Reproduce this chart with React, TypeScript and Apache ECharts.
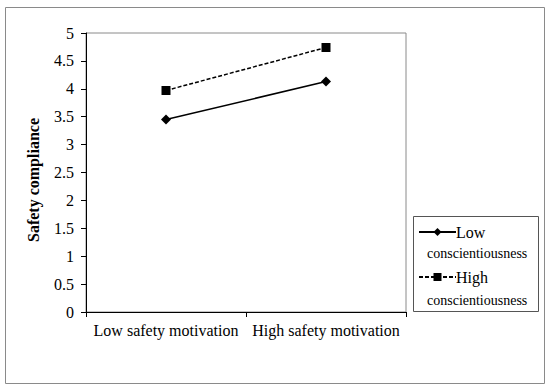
import React, { useEffect, useRef } from "react";
import * as echarts from "echarts";

const categories = ["Low safety motivation", "High safety motivation"];
const lowConscientiousness = [3.45, 4.13];
const highConscientiousness = [3.97, 4.74];
const seriesNames = ["Low", "High"];
const yTicks = { min: 0, max: 5, interval: 0.5 };

const FONT = "'Liberation Serif', 'Times New Roman', serif";

export default function App() {
  const ref = useRef<HTMLDivElement>(null);
  useEffect(() => {
    if (!ref.current) return;
    const chart = echarts.init(ref.current, undefined, { renderer: "svg" });
    chart.setOption({
      animation: false,
      backgroundColor: "#fff",
      grid: {
        left: 86,
        right: 144,
        top: 33,
        bottom: 78,
        show: true,
        borderColor: "#8a8a8a",
        borderWidth: 1,
      },
      xAxis: {
        type: "category",
        data: categories,
        boundaryGap: true,
        axisLine: { lineStyle: { color: "#000", width: 1 } },
        axisTick: { show: true, length: 5, lineStyle: { color: "#000" } },
        axisLabel: { color: "#000", fontFamily: FONT, fontSize: 16, margin: 10, interval: 0 },
        splitLine: { show: false },
      },
      yAxis: {
        type: "value",
        min: yTicks.min,
        max: yTicks.max,
        interval: yTicks.interval,
        axisLine: { show: true, lineStyle: { color: "#000", width: 1 } },
        axisTick: { show: true, length: 5, lineStyle: { color: "#000" } },
        axisLabel: { color: "#000", fontFamily: FONT, fontSize: 16, margin: 12 },
        splitLine: { show: false },
      },
      legend: {
        orient: "vertical",
        left: 418,
        top: 224,
        padding: 0,
        itemWidth: 37,
        itemHeight: 10,
        itemGap: 29,
        textStyle: { color: "#000", fontFamily: FONT, fontSize: 16, padding: [0, 0, 0, -5] },
        data: seriesNames,
      },
      series: [
        {
          name: seriesNames[0],
          type: "line",
          data: lowConscientiousness,
          symbol: "diamond",
          symbolSize: 10,
          itemStyle: { color: "#000" },
          lineStyle: { color: "#000", width: 1.5, type: "solid" },
        },
        {
          name: seriesNames[1],
          type: "line",
          data: highConscientiousness,
          symbol: "rect",
          symbolSize: 9,
          itemStyle: { color: "#000" },
          lineStyle: { color: "#000", width: 1.5, type: [4, 2] },
        },
      ],
      graphic: [
        {
          type: "rect",
          shape: { x: 5.5, y: 7.5, width: 539, height: 376 },
          style: { fill: "none", stroke: "#8a8a8a", lineWidth: 1 },
          silent: true,
        },
        {
          type: "rect",
          shape: { x: 413.5, y: 216.5, width: 125, height: 95 },
          style: { fill: "none", stroke: "#555", lineWidth: 1 },
          silent: true,
        },
        {
          type: "text",
          x: 427,
          y: 253,
          style: { text: "conscientiousness", fill: "#000", font: `14px ${FONT}`, verticalAlign: "middle" },
        },
        {
          type: "text",
          x: 427,
          y: 300,
          style: { text: "conscientiousness", fill: "#000", font: `14px ${FONT}`, verticalAlign: "middle" },
        },
        {
          type: "text",
          x: 33,
          y: 180,
          rotation: Math.PI / 2,
          style: {
            text: "Safety compliance",
            fill: "#000",
            font: `bold 16px ${FONT}`,
            align: "center",
            verticalAlign: "middle",
          },
        },
      ],
    });
    return () => chart.dispose();
  }, []);
  return <div ref={ref} style={{ width: 550, height: 390, position: "absolute", left: 0, top: 0 }} />;
}
